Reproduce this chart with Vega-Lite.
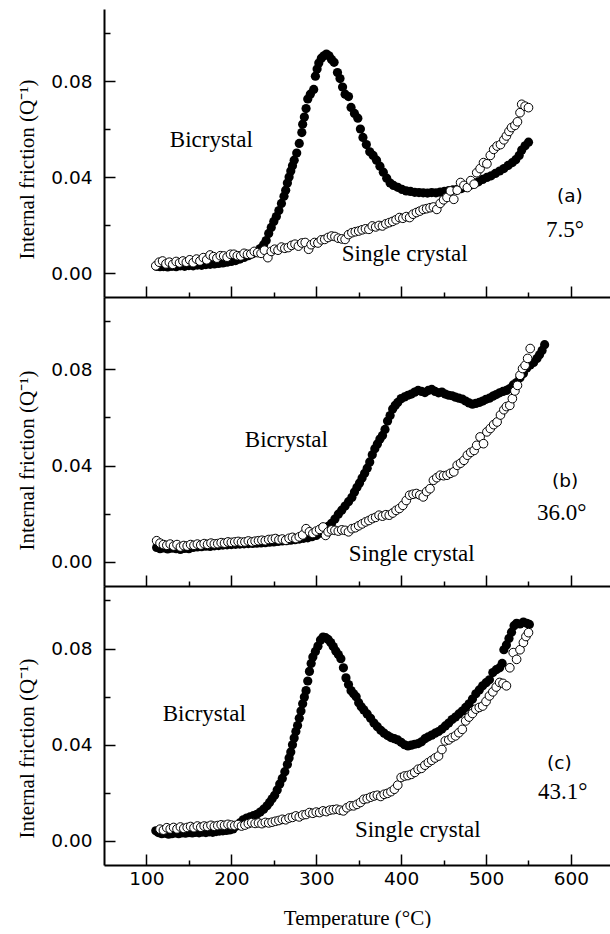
{
  "$schema": "https://vega.github.io/schema/vega-lite/v6.json",
  "padding": {"left": 16, "top": 9, "right": 0, "bottom": 0},
  "spacing": 0,
  "bounds": "flush",
  "config": {
    "view": {"stroke": null},
    "axis": {"grid": false, "domainColor": "black", "domainWidth": 2, "tickColor": "black", "tickWidth": 1.5,
      "labelFont": "DejaVu Sans", "labelFontSize": 18.5, "labelColor": "black",
      "titleFont": "Liberation Serif", "titleFontSize": 21, "titleFontWeight": "normal", "titleColor": "black"},
    "axisLeft": {"labelPadding": 12, "titleAngle": -90, "titleBaseline": "alphabetic", "titleX": -71, "titleAlign": "center"},
    "axisBottom": {"labelPadding": 4, "titleBaseline": "alphabetic", "titleY": 59, "titleAlign": "center"},
    "text": {"font": "Liberation Serif", "fontSize": 23, "align": "left", "baseline": "alphabetic", "color": "black"}
  },
  "datasets": {
    "aB": [{"T":112,"q":0.0028},{"T":116,"q":0.0026},{"T":120,"q":0.0027},{"T":125,"q":0.0025},{"T":130,"q":0.0028},{"T":135,"q":0.0026},{"T":140,"q":0.003},{"T":145,"q":0.0028},{"T":150,"q":0.0031},{"T":155,"q":0.003},{"T":160,"q":0.0033},{"T":165,"q":0.0032},{"T":170,"q":0.0035},{"T":175,"q":0.0036},{"T":180,"q":0.0038},{"T":185,"q":0.004},{"T":190,"q":0.0042},{"T":195,"q":0.0045},{"T":200,"q":0.0048},{"T":205,"q":0.0052},{"T":210,"q":0.0058},{"T":215,"q":0.0065},{"T":220,"q":0.0072},{"T":225,"q":0.008},{"T":230,"q":0.009},{"T":234,"q":0.0102},{"T":238,"q":0.0118},{"T":241,"q":0.0135},{"T":244,"q":0.0165},{"T":247,"q":0.019},{"T":250,"q":0.0215},{"T":253,"q":0.0235},{"T":256,"q":0.026},{"T":259,"q":0.029},{"T":262,"q":0.032},{"T":264,"q":0.0345},{"T":266,"q":0.0375},{"T":268,"q":0.04},{"T":270,"q":0.0425},{"T":272,"q":0.0447},{"T":274,"q":0.047},{"T":277,"q":0.05},{"T":280,"q":0.054},{"T":283,"q":0.0585},{"T":284,"q":0.062},{"T":286,"q":0.065},{"T":288,"q":0.0685},{"T":290,"q":0.0725},{"T":293,"q":0.0745},{"T":297,"q":0.0765},{"T":299,"q":0.082},{"T":301,"q":0.085},{"T":303,"q":0.0875},{"T":306,"q":0.0895},{"T":309,"q":0.0905},{"T":312,"q":0.0912},{"T":315,"q":0.0905},{"T":318,"q":0.089},{"T":321,"q":0.0878},{"T":325,"q":0.0835},{"T":328,"q":0.081},{"T":331,"q":0.0775},{"T":334,"q":0.0745},{"T":338,"q":0.0735},{"T":341,"q":0.069},{"T":345,"q":0.0665},{"T":349,"q":0.0645},{"T":352,"q":0.06},{"T":355,"q":0.0565},{"T":359,"q":0.0535},{"T":363,"q":0.0505},{"T":367,"q":0.049},{"T":371,"q":0.047},{"T":375,"q":0.0445},{"T":379,"q":0.042},{"T":383,"q":0.0395},{"T":387,"q":0.0375},{"T":391,"q":0.0365},{"T":396,"q":0.0357},{"T":401,"q":0.0348},{"T":406,"q":0.0342},{"T":411,"q":0.034},{"T":416,"q":0.0336},{"T":421,"q":0.0335},{"T":426,"q":0.0334},{"T":431,"q":0.0333},{"T":436,"q":0.0335},{"T":441,"q":0.0334},{"T":446,"q":0.0337},{"T":451,"q":0.034},{"T":456,"q":0.0343},{"T":461,"q":0.0346},{"T":466,"q":0.0348},{"T":471,"q":0.0352},{"T":476,"q":0.0358},{"T":481,"q":0.0365},{"T":486,"q":0.0372},{"T":491,"q":0.038},{"T":496,"q":0.039},{"T":501,"q":0.0398},{"T":506,"q":0.0405},{"T":511,"q":0.0415},{"T":516,"q":0.0425},{"T":521,"q":0.0435},{"T":526,"q":0.0448},{"T":531,"q":0.046},{"T":535,"q":0.0472},{"T":539,"q":0.049},{"T":542,"q":0.0512},{"T":546,"q":0.053},{"T":550,"q":0.0545}],
    "aS": [{"T":111,"q":0.003},{"T":115,"q":0.0045},{"T":119,"q":0.005},{"T":123,"q":0.0038},{"T":127,"q":0.0045},{"T":131,"q":0.0036},{"T":135,"q":0.0048},{"T":139,"q":0.0042},{"T":143,"q":0.005},{"T":147,"q":0.0045},{"T":151,"q":0.0055},{"T":155,"q":0.0043},{"T":159,"q":0.0058},{"T":163,"q":0.005},{"T":167,"q":0.0064},{"T":171,"q":0.0055},{"T":175,"q":0.0075},{"T":179,"q":0.0068},{"T":183,"q":0.0062},{"T":187,"q":0.0072},{"T":191,"q":0.0071},{"T":195,"q":0.0066},{"T":199,"q":0.0078},{"T":203,"q":0.0078},{"T":207,"q":0.0072},{"T":211,"q":0.0071},{"T":215,"q":0.0082},{"T":219,"q":0.0078},{"T":223,"q":0.0079},{"T":227,"q":0.009},{"T":231,"q":0.0085},{"T":235,"q":0.0082},{"T":239,"q":0.0095},{"T":243,"q":0.0064},{"T":247,"q":0.009},{"T":251,"q":0.0099},{"T":255,"q":0.0095},{"T":259,"q":0.0108},{"T":263,"q":0.0103},{"T":267,"q":0.0106},{"T":271,"q":0.0115},{"T":275,"q":0.012},{"T":279,"q":0.0112},{"T":283,"q":0.0125},{"T":287,"q":0.0127},{"T":291,"q":0.0099},{"T":294,"q":0.0118},{"T":298,"q":0.0127},{"T":302,"q":0.0125},{"T":306,"q":0.0138},{"T":310,"q":0.014},{"T":314,"q":0.0148},{"T":318,"q":0.0154},{"T":322,"q":0.0152},{"T":326,"q":0.0145},{"T":330,"q":0.0142},{"T":334,"q":0.014},{"T":338,"q":0.016},{"T":342,"q":0.0168},{"T":346,"q":0.0172},{"T":350,"q":0.0175},{"T":354,"q":0.018},{"T":358,"q":0.0184},{"T":362,"q":0.0182},{"T":366,"q":0.0196},{"T":370,"q":0.0192},{"T":374,"q":0.0198},{"T":378,"q":0.0196},{"T":382,"q":0.0205},{"T":386,"q":0.021},{"T":390,"q":0.0215},{"T":394,"q":0.0222},{"T":398,"q":0.0231},{"T":402,"q":0.0228},{"T":406,"q":0.0235},{"T":410,"q":0.0231},{"T":414,"q":0.0245},{"T":418,"q":0.0252},{"T":422,"q":0.0258},{"T":426,"q":0.0265},{"T":430,"q":0.0268},{"T":434,"q":0.0272},{"T":438,"q":0.0275},{"T":442,"q":0.0265},{"T":446,"q":0.029},{"T":450,"q":0.0305},{"T":454,"q":0.0315},{"T":458,"q":0.0342},{"T":462,"q":0.0307},{"T":466,"q":0.0345},{"T":470,"q":0.0377},{"T":474,"q":0.0365},{"T":478,"q":0.0356},{"T":482,"q":0.0385},{"T":486,"q":0.037},{"T":489,"q":0.0418},{"T":493,"q":0.0435},{"T":497,"q":0.046},{"T":501,"q":0.0455},{"T":505,"q":0.049},{"T":509,"q":0.0515},{"T":513,"q":0.0529},{"T":517,"q":0.0535},{"T":521,"q":0.0555},{"T":524,"q":0.0571},{"T":527,"q":0.059},{"T":530,"q":0.0606},{"T":534,"q":0.0615},{"T":537,"q":0.063},{"T":540,"q":0.0668},{"T":542,"q":0.0703},{"T":546,"q":0.0695},{"T":550,"q":0.0689}],
    "bB": [{"T":112,"q":0.006},{"T":116,"q":0.0055},{"T":120,"q":0.0058},{"T":125,"q":0.0054},{"T":130,"q":0.0057},{"T":135,"q":0.0055},{"T":140,"q":0.0052},{"T":145,"q":0.0056},{"T":150,"q":0.0055},{"T":155,"q":0.006},{"T":160,"q":0.0062},{"T":165,"q":0.0063},{"T":170,"q":0.0065},{"T":175,"q":0.0064},{"T":180,"q":0.0067},{"T":185,"q":0.0068},{"T":190,"q":0.007},{"T":195,"q":0.0071},{"T":200,"q":0.0072},{"T":205,"q":0.0073},{"T":210,"q":0.0074},{"T":215,"q":0.0075},{"T":220,"q":0.0076},{"T":225,"q":0.0077},{"T":230,"q":0.0078},{"T":235,"q":0.0079},{"T":240,"q":0.008},{"T":245,"q":0.0082},{"T":250,"q":0.0083},{"T":255,"q":0.0085},{"T":260,"q":0.0087},{"T":265,"q":0.0088},{"T":270,"q":0.009},{"T":275,"q":0.0092},{"T":280,"q":0.0095},{"T":285,"q":0.0098},{"T":290,"q":0.01},{"T":295,"q":0.0105},{"T":300,"q":0.011},{"T":305,"q":0.012},{"T":310,"q":0.0135},{"T":314,"q":0.0148},{"T":318,"q":0.016},{"T":322,"q":0.0178},{"T":326,"q":0.0198},{"T":330,"q":0.0215},{"T":334,"q":0.0232},{"T":338,"q":0.025},{"T":342,"q":0.0268},{"T":345,"q":0.029},{"T":348,"q":0.031},{"T":351,"q":0.0328},{"T":354,"q":0.0348},{"T":357,"q":0.0368},{"T":360,"q":0.0389},{"T":363,"q":0.0415},{"T":366,"q":0.0445},{"T":369,"q":0.047},{"T":372,"q":0.049},{"T":375,"q":0.051},{"T":378,"q":0.0525},{"T":381,"q":0.055},{"T":384,"q":0.0585},{"T":387,"q":0.0608},{"T":390,"q":0.0635},{"T":393,"q":0.065},{"T":396,"q":0.0662},{"T":400,"q":0.0678},{"T":404,"q":0.0685},{"T":408,"q":0.0692},{"T":412,"q":0.0697},{"T":416,"q":0.0705},{"T":420,"q":0.0712},{"T":424,"q":0.0708},{"T":428,"q":0.0703},{"T":432,"q":0.0712},{"T":436,"q":0.0716},{"T":440,"q":0.0708},{"T":444,"q":0.0702},{"T":448,"q":0.0705},{"T":452,"q":0.0697},{"T":456,"q":0.0692},{"T":460,"q":0.069},{"T":464,"q":0.0684},{"T":468,"q":0.068},{"T":472,"q":0.0676},{"T":476,"q":0.0668},{"T":480,"q":0.066},{"T":484,"q":0.0655},{"T":488,"q":0.0658},{"T":492,"q":0.0662},{"T":496,"q":0.0668},{"T":500,"q":0.0675},{"T":504,"q":0.068},{"T":508,"q":0.0688},{"T":512,"q":0.0695},{"T":516,"q":0.0702},{"T":520,"q":0.0708},{"T":524,"q":0.0712},{"T":528,"q":0.072},{"T":532,"q":0.0735},{"T":536,"q":0.0745},{"T":540,"q":0.0765},{"T":544,"q":0.0782},{"T":548,"q":0.0805},{"T":552,"q":0.0818},{"T":556,"q":0.0828},{"T":560,"q":0.0845},{"T":563,"q":0.086},{"T":566,"q":0.0878},{"T":569,"q":0.0902}],
    "bS": [{"T":112,"q":0.0088},{"T":116,"q":0.0078},{"T":120,"q":0.0072},{"T":124,"q":0.0069},{"T":128,"q":0.0074},{"T":132,"q":0.0066},{"T":136,"q":0.0072},{"T":140,"q":0.0062},{"T":144,"q":0.0068},{"T":148,"q":0.0066},{"T":152,"q":0.0072},{"T":156,"q":0.0069},{"T":160,"q":0.0074},{"T":164,"q":0.007},{"T":168,"q":0.0076},{"T":172,"q":0.0073},{"T":176,"q":0.0078},{"T":180,"q":0.0075},{"T":184,"q":0.0076},{"T":188,"q":0.008},{"T":192,"q":0.0078},{"T":196,"q":0.0083},{"T":200,"q":0.0081},{"T":204,"q":0.0083},{"T":208,"q":0.0085},{"T":212,"q":0.0082},{"T":216,"q":0.0083},{"T":220,"q":0.0087},{"T":224,"q":0.0083},{"T":228,"q":0.0086},{"T":232,"q":0.0088},{"T":236,"q":0.009},{"T":240,"q":0.0088},{"T":244,"q":0.0093},{"T":248,"q":0.0094},{"T":252,"q":0.0097},{"T":256,"q":0.0092},{"T":260,"q":0.0095},{"T":264,"q":0.009},{"T":268,"q":0.0098},{"T":272,"q":0.0102},{"T":276,"q":0.0097},{"T":280,"q":0.0104},{"T":284,"q":0.0112},{"T":288,"q":0.0138},{"T":292,"q":0.0125},{"T":296,"q":0.0118},{"T":300,"q":0.0128},{"T":304,"q":0.0135},{"T":308,"q":0.0145},{"T":311,"q":0.011},{"T":314,"q":0.0125},{"T":318,"q":0.0133},{"T":322,"q":0.0131},{"T":326,"q":0.0128},{"T":330,"q":0.0133},{"T":334,"q":0.0131},{"T":338,"q":0.0125},{"T":342,"q":0.0138},{"T":346,"q":0.0142},{"T":350,"q":0.015},{"T":354,"q":0.0158},{"T":358,"q":0.0166},{"T":362,"q":0.0172},{"T":366,"q":0.018},{"T":370,"q":0.0185},{"T":374,"q":0.0194},{"T":378,"q":0.019},{"T":382,"q":0.0196},{"T":386,"q":0.0194},{"T":390,"q":0.0203},{"T":394,"q":0.0214},{"T":398,"q":0.0222},{"T":402,"q":0.0235},{"T":406,"q":0.0255},{"T":410,"q":0.0277},{"T":414,"q":0.0281},{"T":418,"q":0.0284},{"T":422,"q":0.0278},{"T":426,"q":0.027},{"T":430,"q":0.0292},{"T":434,"q":0.0304},{"T":438,"q":0.0339},{"T":442,"q":0.035},{"T":446,"q":0.036},{"T":450,"q":0.0358},{"T":454,"q":0.036},{"T":458,"q":0.0368},{"T":462,"q":0.0374},{"T":466,"q":0.0401},{"T":470,"q":0.041},{"T":474,"q":0.0422},{"T":478,"q":0.0443},{"T":482,"q":0.0455},{"T":486,"q":0.0463},{"T":489,"q":0.0484},{"T":493,"q":0.0519},{"T":497,"q":0.0491},{"T":501,"q":0.054},{"T":505,"q":0.0554},{"T":509,"q":0.057},{"T":513,"q":0.0581},{"T":517,"q":0.061},{"T":521,"q":0.0632},{"T":524,"q":0.0645},{"T":528,"q":0.065},{"T":531,"q":0.0678},{"T":534,"q":0.071},{"T":537,"q":0.0733},{"T":540,"q":0.0775},{"T":543,"q":0.0803},{"T":546,"q":0.0816},{"T":549,"q":0.0845},{"T":552,"q":0.0886}],
    "cB": [{"T":111,"q":0.0042},{"T":114,"q":0.0035},{"T":118,"q":0.003},{"T":122,"q":0.0032},{"T":126,"q":0.0028},{"T":130,"q":0.003},{"T":134,"q":0.0033},{"T":138,"q":0.003},{"T":142,"q":0.0034},{"T":146,"q":0.0032},{"T":150,"q":0.0035},{"T":154,"q":0.0033},{"T":158,"q":0.0036},{"T":162,"q":0.0034},{"T":166,"q":0.0037},{"T":170,"q":0.0035},{"T":174,"q":0.0038},{"T":178,"q":0.0036},{"T":182,"q":0.0039},{"T":186,"q":0.0041},{"T":190,"q":0.0042},{"T":194,"q":0.0044},{"T":198,"q":0.0046},{"T":202,"q":0.005},{"T":206,"q":0.0062},{"T":210,"q":0.0075},{"T":214,"q":0.0088},{"T":218,"q":0.0095},{"T":222,"q":0.01},{"T":226,"q":0.0105},{"T":230,"q":0.0111},{"T":234,"q":0.012},{"T":238,"q":0.0132},{"T":242,"q":0.0146},{"T":245,"q":0.016},{"T":248,"q":0.0175},{"T":251,"q":0.019},{"T":254,"q":0.0212},{"T":257,"q":0.0237},{"T":260,"q":0.026},{"T":263,"q":0.0288},{"T":266,"q":0.0318},{"T":268,"q":0.0345},{"T":270,"q":0.037},{"T":272,"q":0.04},{"T":274,"q":0.0428},{"T":276,"q":0.0455},{"T":278,"q":0.048},{"T":280,"q":0.051},{"T":282,"q":0.054},{"T":284,"q":0.057},{"T":286,"q":0.0598},{"T":288,"q":0.0625},{"T":290,"q":0.0665},{"T":292,"q":0.0705},{"T":294,"q":0.0738},{"T":296,"q":0.0765},{"T":299,"q":0.0788},{"T":302,"q":0.081},{"T":305,"q":0.0835},{"T":308,"q":0.0848},{"T":311,"q":0.0845},{"T":314,"q":0.0838},{"T":317,"q":0.0825},{"T":320,"q":0.0808},{"T":323,"q":0.079},{"T":326,"q":0.0775},{"T":329,"q":0.0758},{"T":332,"q":0.072},{"T":335,"q":0.0678},{"T":338,"q":0.065},{"T":341,"q":0.0625},{"T":344,"q":0.0612},{"T":347,"q":0.06},{"T":350,"q":0.0575},{"T":353,"q":0.0558},{"T":356,"q":0.0545},{"T":360,"q":0.0528},{"T":364,"q":0.051},{"T":368,"q":0.049},{"T":372,"q":0.0475},{"T":376,"q":0.046},{"T":380,"q":0.0448},{"T":384,"q":0.0438},{"T":388,"q":0.043},{"T":392,"q":0.0425},{"T":396,"q":0.042},{"T":400,"q":0.041},{"T":404,"q":0.04},{"T":408,"q":0.0395},{"T":412,"q":0.0398},{"T":416,"q":0.0402},{"T":420,"q":0.0405},{"T":424,"q":0.0412},{"T":428,"q":0.0425},{"T":432,"q":0.0433},{"T":436,"q":0.044},{"T":440,"q":0.0448},{"T":444,"q":0.0455},{"T":448,"q":0.0465},{"T":452,"q":0.0478},{"T":456,"q":0.049},{"T":460,"q":0.0505},{"T":464,"q":0.0515},{"T":468,"q":0.0528},{"T":472,"q":0.054},{"T":476,"q":0.0555},{"T":480,"q":0.057},{"T":484,"q":0.059},{"T":488,"q":0.0612},{"T":492,"q":0.0628},{"T":496,"q":0.0645},{"T":500,"q":0.0658},{"T":504,"q":0.067},{"T":508,"q":0.07},{"T":512,"q":0.0712},{"T":516,"q":0.072},{"T":519,"q":0.0738},{"T":521,"q":0.0795},{"T":524,"q":0.0815},{"T":527,"q":0.0842},{"T":530,"q":0.0868},{"T":533,"q":0.0895},{"T":536,"q":0.0905},{"T":540,"q":0.0902},{"T":544,"q":0.091},{"T":548,"q":0.0905},{"T":551,"q":0.09}],
    "cS": [{"T":116,"q":0.0049},{"T":120,"q":0.0045},{"T":124,"q":0.0055},{"T":128,"q":0.005},{"T":132,"q":0.0056},{"T":136,"q":0.005},{"T":140,"q":0.0058},{"T":144,"q":0.0052},{"T":148,"q":0.0056},{"T":152,"q":0.006},{"T":156,"q":0.0055},{"T":160,"q":0.0062},{"T":164,"q":0.0057},{"T":168,"q":0.0062},{"T":172,"q":0.006},{"T":176,"q":0.0065},{"T":180,"q":0.0061},{"T":184,"q":0.0064},{"T":188,"q":0.0067},{"T":192,"q":0.0065},{"T":196,"q":0.0069},{"T":200,"q":0.0066},{"T":204,"q":0.0064},{"T":208,"q":0.0068},{"T":212,"q":0.0062},{"T":216,"q":0.0066},{"T":220,"q":0.0072},{"T":224,"q":0.0076},{"T":228,"q":0.0073},{"T":232,"q":0.0075},{"T":236,"q":0.0072},{"T":240,"q":0.0077},{"T":244,"q":0.0075},{"T":248,"q":0.0078},{"T":252,"q":0.0082},{"T":256,"q":0.0085},{"T":260,"q":0.009},{"T":264,"q":0.0088},{"T":268,"q":0.0095},{"T":272,"q":0.0098},{"T":276,"q":0.0104},{"T":280,"q":0.01},{"T":284,"q":0.0108},{"T":288,"q":0.011},{"T":292,"q":0.0118},{"T":296,"q":0.0115},{"T":300,"q":0.012},{"T":304,"q":0.0118},{"T":308,"q":0.0125},{"T":312,"q":0.0122},{"T":316,"q":0.0128},{"T":320,"q":0.013},{"T":324,"q":0.0132},{"T":328,"q":0.0128},{"T":332,"q":0.0125},{"T":336,"q":0.0138},{"T":340,"q":0.0146},{"T":344,"q":0.0146},{"T":348,"q":0.0152},{"T":352,"q":0.016},{"T":356,"q":0.0173},{"T":360,"q":0.0176},{"T":364,"q":0.0182},{"T":368,"q":0.0187},{"T":372,"q":0.019},{"T":376,"q":0.0185},{"T":380,"q":0.0194},{"T":384,"q":0.0198},{"T":388,"q":0.0205},{"T":392,"q":0.0215},{"T":396,"q":0.0232},{"T":400,"q":0.0264},{"T":404,"q":0.027},{"T":408,"q":0.0272},{"T":412,"q":0.0277},{"T":416,"q":0.0285},{"T":420,"q":0.0298},{"T":424,"q":0.0302},{"T":428,"q":0.0315},{"T":432,"q":0.0326},{"T":436,"q":0.0335},{"T":440,"q":0.0345},{"T":444,"q":0.0353},{"T":448,"q":0.038},{"T":452,"q":0.0416},{"T":456,"q":0.042},{"T":460,"q":0.043},{"T":464,"q":0.0437},{"T":468,"q":0.045},{"T":472,"q":0.0464},{"T":476,"q":0.0499},{"T":480,"q":0.0515},{"T":484,"q":0.053},{"T":488,"q":0.0548},{"T":492,"q":0.0555},{"T":496,"q":0.0561},{"T":500,"q":0.058},{"T":504,"q":0.0603},{"T":508,"q":0.062},{"T":512,"q":0.064},{"T":516,"q":0.0659},{"T":520,"q":0.0655},{"T":524,"q":0.0645},{"T":528,"q":0.072},{"T":532,"q":0.0783},{"T":536,"q":0.0755},{"T":540,"q":0.0795},{"T":544,"q":0.0825},{"T":547,"q":0.085},{"T":550,"q":0.0866}],
    "aL": [{"t":"Bicrystal","T":127.5,"q":0.0524,"r":"s"},{"t":"Single crystal","T":330,"q":0.0049,"r":"s"},{"t":"7.5°","T":570.7,"q":0.0149,"r":"s"},{"t":"(a)","T":583.6,"q":0.0295,"r":"p"}],
    "bL": [{"t":"Bicrystal","T":215.9,"q":0.0479,"r":"s"},{"t":"Single crystal","T":338.4,"q":0.0005,"r":"s"},{"t":"36.0°","T":560,"q":0.0172,"r":"s"},{"t":"(b)","T":577.7,"q":0.0313,"r":"p"}],
    "cL": [{"t":"Bicrystal","T":119.2,"q":0.0498,"r":"s"},{"t":"Single crystal","T":345.5,"q":0.0015,"r":"s"},{"t":"43.1°","T":561.2,"q":0.0173,"r":"s"},{"t":"(c)","T":571.8,"q":0.0298,"r":"p"}]
  },
  "vconcat": [
    {
      "width": 506, "height": 288,
      "resolve": {"axis": {"x": "independent", "y": "independent"}},
      "layer": [
        {"data": {"name": "aB"}, "mark": {"type": "circle", "color": "black", "size": 85, "opacity": 1},
         "encoding": {
           "x": {"field": "T", "type": "quantitative", "scale": {"domain": [50, 646]},
             "axis": {"orient": "bottom", "title": null, "labels": false, "ticks": false}},
           "y": {"field": "q", "type": "quantitative", "scale": {"domain": [-0.01, 0.11]},
             "axis": {"orient": "left", "title": "Internal friction (Q⁻¹)", "titleY": 160, "values": [0,0.04,0.08], "format": ".2f", "ticks": false}}
         }},
        {"data": {"name": "aS"}, "mark": {"type": "circle", "fill": "white", "stroke": "black", "strokeWidth": 1, "size": 75, "opacity": 1},
         "encoding": {
           "x": {"field": "T", "type": "quantitative", "scale": {"domain": [50, 646]},
             "axis": {"orient": "top", "offset": -288, "title": null, "labels": false, "domain": false, "values": [100,200,300,400,500,600], "tickSize": 11}},
           "y": {"field": "q", "type": "quantitative", "scale": {"domain": [-0.01, 0.11]},
             "axis": {"orient": "right", "offset": -506, "title": null, "labels": false, "domain": false, "values": [0,0.04,0.08], "tickSize": 11}}}},
        {"data": {"name": "aL"}, "transform": [{"filter": "datum.r === 's'"}], "mark": {"type": "text"},
         "encoding": {
           "x": {"field": "T", "type": "quantitative", "scale": {"domain": [50, 646]},
             "axis": {"orient": "top", "offset": -288, "title": null, "labels": false, "domain": false, "values": [150,250,350,450,550], "tickSize": 5}},
           "y": {"field": "q", "type": "quantitative", "scale": {"domain": [-0.01, 0.11]},
             "axis": {"orient": "right", "offset": -506, "title": null, "labels": false, "domain": false, "values": [0.02,0.06,0.1], "tickSize": 6}},
           "text": {"field": "t"}}},
        {"data": {"name": "aL"}, "transform": [{"filter": "datum.r === 'p'"}], "mark": {"type": "text", "font": "DejaVu Sans", "fontSize": 18.5},
         "encoding": {"x": {"field": "T", "type": "quantitative", "scale": {"domain": [50, 646]}, "axis": null},
           "y": {"field": "q", "type": "quantitative", "scale": {"domain": [-0.01, 0.11]}, "axis": null}, "text": {"field": "t"}}},
        {"mark": {"type": "rule", "color": "black", "strokeWidth": 2},
         "encoding": {"y": {"datum": 0.11, "type": "quantitative", "scale": {"domain": [-0.01, 0.11]}, "axis": null}}}
      ]
    },
    {
      "width": 506, "height": 289,
      "resolve": {"axis": {"x": "independent", "y": "independent"}},
      "layer": [
        {"data": {"name": "bB"}, "mark": {"type": "circle", "color": "black", "size": 85, "opacity": 1},
         "encoding": {
           "x": {"field": "T", "type": "quantitative", "scale": {"domain": [50, 646]},
             "axis": {"orient": "bottom", "title": null, "labels": false, "ticks": false}},
           "y": {"field": "q", "type": "quantitative", "scale": {"domain": [-0.01, 0.11]},
             "axis": {"orient": "left", "title": "Internal friction (Q⁻¹)", "titleY": 163, "values": [0,0.04,0.08], "format": ".2f", "ticks": false}}
         }},
        {"data": {"name": "bS"}, "mark": {"type": "circle", "fill": "white", "stroke": "black", "strokeWidth": 1, "size": 75, "opacity": 1},
         "encoding": {
           "x": {"field": "T", "type": "quantitative", "scale": {"domain": [50, 646]},
             "axis": {"orient": "top", "offset": -289, "title": null, "labels": false, "domain": false, "values": [100,200,300,400,500,600], "tickSize": 11}},
           "y": {"field": "q", "type": "quantitative", "scale": {"domain": [-0.01, 0.11]},
             "axis": {"orient": "right", "offset": -506, "title": null, "labels": false, "domain": false, "values": [0,0.04,0.08], "tickSize": 11}}}},
        {"data": {"name": "bL"}, "transform": [{"filter": "datum.r === 's'"}], "mark": {"type": "text"},
         "encoding": {
           "x": {"field": "T", "type": "quantitative", "scale": {"domain": [50, 646]},
             "axis": {"orient": "top", "offset": -289, "title": null, "labels": false, "domain": false, "values": [150,250,350,450,550], "tickSize": 5}},
           "y": {"field": "q", "type": "quantitative", "scale": {"domain": [-0.01, 0.11]},
             "axis": {"orient": "right", "offset": -506, "title": null, "labels": false, "domain": false, "values": [0.02,0.06,0.1], "tickSize": 6}},
           "text": {"field": "t"}}},
        {"data": {"name": "bL"}, "transform": [{"filter": "datum.r === 'p'"}], "mark": {"type": "text", "font": "DejaVu Sans", "fontSize": 18.5},
         "encoding": {"x": {"field": "T", "type": "quantitative", "scale": {"domain": [50, 646]}, "axis": null},
           "y": {"field": "q", "type": "quantitative", "scale": {"domain": [-0.01, 0.11]}, "axis": null}, "text": {"field": "t"}}}
      ]
    },
    {
      "width": 506, "height": 279,
      "resolve": {"axis": {"x": "independent", "y": "independent"}},
      "layer": [
        {"data": {"name": "cB"}, "mark": {"type": "circle", "color": "black", "size": 85, "opacity": 1},
         "encoding": {
           "x": {"field": "T", "type": "quantitative", "scale": {"domain": [50, 646]},
             "axis": {"orient": "bottom", "title": "Temperature (°C)", "values": [100,200,300,400,500,600], "ticks": false}},
           "y": {"field": "q", "type": "quantitative", "scale": {"domain": [-0.01, 0.106]},
             "axis": {"orient": "left", "title": "Internal friction (Q⁻¹)", "titleY": 162, "values": [0,0.04,0.08], "format": ".2f", "ticks": false}}
         }},
        {"data": {"name": "cS"}, "mark": {"type": "circle", "fill": "white", "stroke": "black", "strokeWidth": 1, "size": 75, "opacity": 1},
         "encoding": {
           "x": {"field": "T", "type": "quantitative", "scale": {"domain": [50, 646]},
             "axis": {"orient": "top", "offset": -279, "title": null, "labels": false, "domain": false, "values": [100,200,300,400,500,600], "tickSize": 11}},
           "y": {"field": "q", "type": "quantitative", "scale": {"domain": [-0.01, 0.106]},
             "axis": {"orient": "right", "offset": -506, "title": null, "labels": false, "domain": false, "values": [0,0.04,0.08], "tickSize": 11}}}},
        {"data": {"name": "cL"}, "transform": [{"filter": "datum.r === 's'"}], "mark": {"type": "text"},
         "encoding": {
           "x": {"field": "T", "type": "quantitative", "scale": {"domain": [50, 646]},
             "axis": {"orient": "top", "offset": -279, "title": null, "labels": false, "domain": false, "values": [150,250,350,450,550], "tickSize": 5}},
           "y": {"field": "q", "type": "quantitative", "scale": {"domain": [-0.01, 0.106]},
             "axis": {"orient": "right", "offset": -506, "title": null, "labels": false, "domain": false, "values": [0.02,0.06,0.1], "tickSize": 6}},
           "text": {"field": "t"}}},
        {"data": {"name": "cL"}, "transform": [{"filter": "datum.r === 'p'"}], "mark": {"type": "text", "font": "DejaVu Sans", "fontSize": 18.5},
         "encoding": {"x": {"field": "T", "type": "quantitative", "scale": {"domain": [50, 646]}, "axis": null},
           "y": {"field": "q", "type": "quantitative", "scale": {"domain": [-0.01, 0.106]}, "axis": null}, "text": {"field": "t"}}}
      ]
    }
  ]
}
